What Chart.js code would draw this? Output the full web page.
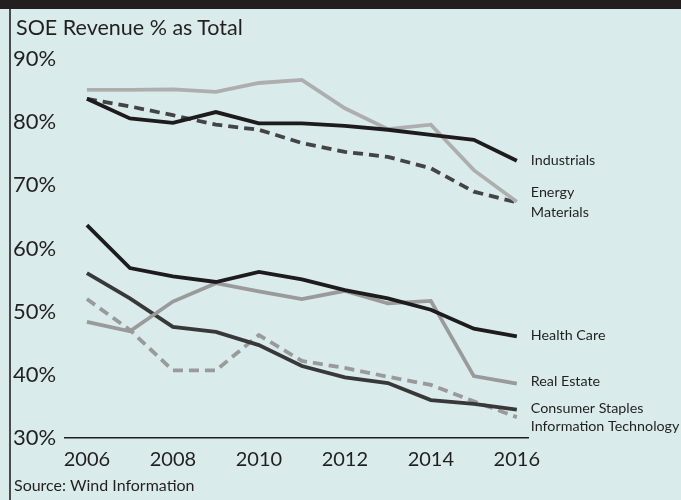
<!DOCTYPE html>
<html>
<head>
<meta charset="utf-8">
<script src="https://cdn.jsdelivr.net/npm/chart.js@4"></script>
<style>
  html, body { margin: 0; padding: 0; }
  body { width: 681px; height: 500px; background: #d9ebea; position: relative; overflow: hidden;
         font-family: Lato, "Open Sans", sans-serif; color: #231f20; }
  #topbar { position: absolute; left: 0; top: 0; width: 681px; height: 9px; background: #231f20; }
  #leftline { position: absolute; left: 9px; top: 9px; width: 2px; height: 491px; background: #4a4a4a; }
  #title { position: absolute; left: 16px; top: 14px; font-size: 21.5px; }
  #source { position: absolute; left: 14px; top: 475px; font-size: 16px; }
  #wrap { position: absolute; left: 0; top: 0; width: 681px; height: 500px; }
</style>
</head>
<body>
<div id="wrap"><canvas id="myChart"></canvas></div>
<div id="topbar"></div>
<div id="leftline"></div>
<div id="title">SOE Revenue % as Total</div>
<div id="source">Source: Wind Information</div>
<script>
var years = [2006, 2007, 2008, 2009, 2010, 2011, 2012, 2013, 2014, 2015, 2016];
var yTicks = [30, 40, 50, 60, 70, 80, 90];
var xTicks = [2006, 2008, 2010, 2012, 2014, 2016];

var industrials = [83.7, 80.6, 79.9, 81.6, 79.8, 79.8, 79.4, 78.8, 78.0, 77.2, 73.9];
var energy = [85.1, 85.1, 85.2, 84.8, 86.2, 86.7, 82.2, 78.9, 79.6, 72.4, 67.4];
var materials = [83.7, 82.5, 81.1, 79.6, 78.8, 76.7, 75.3, 74.5, 72.7, 69.0, 67.3];
var healthCare = [63.7, 56.9, 55.6, 54.7, 56.3, 55.1, 53.4, 52.1, 50.3, 47.3, 46.1];
var realEstate = [48.4, 46.9, 51.6, 54.5, 53.2, 52.0, 53.3, 51.3, 51.7, 39.8, 38.6];
var consumerStaples = [56.1, 52.1, 47.6, 46.8, 44.7, 41.4, 39.6, 38.7, 36.0, 35.4, 34.5];
var infoTech = [52.0, 47.1, 40.7, 40.7, 46.3, 42.2, 41.1, 39.7, 38.4, 35.8, 33.3];

function pts(vals) {
    return vals.map(function (v, i) { return { x: years[i], y: v }; });
}

function series(name, vals, color, dash) {
    return {
        label: name,
        data: pts(vals),
        borderColor: color,
        borderWidth: 3.8,
        borderDash: dash || [],
        pointRadius: 0,
        tension: 0,
        fill: false
    };
}

// text next to the last point of a series; dy nudges it up/down
var endLabels = [
    { ds: 0, lines: ['Industrials'], dy: 0 },
    { ds: 1, lines: ['Energy', 'Materials'], dy: -9 },
    { ds: 3, lines: ['Health Care'], dy: -1 },
    { ds: 4, lines: ['Real Estate'], dy: -2 },
    { ds: 5, lines: ['Consumer Staples'], dy: -1 },
    { ds: 6, lines: ['Information Technology'], dy: 9 }
];

var endLabelPlugin = {
    id: 'endLabels',
    afterDatasetsDraw: function (chart) {
        var ctx = chart.ctx;
        ctx.save();
        ctx.font = '14.3px Lato, "Open Sans", sans-serif';
        ctx.fillStyle = '#231f20';
        ctx.textBaseline = 'middle';
        ctx.textAlign = 'left';
        endLabels.forEach(function (l) {
            var meta = chart.getDatasetMeta(l.ds);
            var p = meta.data[meta.data.length - 1];
            l.lines.forEach(function (t, j) {
                ctx.fillText(t, p.x + 14, p.y + l.dy + j * 20);
            });
        });
        ctx.restore();
    }
};

var ctx = document.getElementById('myChart').getContext('2d');
var chart = new Chart(ctx, {
    type: 'line',
    data: {
        datasets: [
            series('Industrials', industrials, '#1e1b1c'),
            series('Energy', energy, '#aeaeae'),
            series('Materials', materials, '#444444', [10, 6]),
            series('Health Care', healthCare, '#1e1b1c'),
            series('Real Estate', realEstate, '#9a9a9a'),
            series('Consumer Staples', consumerStaples, '#383838'),
            series('Information Technology', infoTech, '#9a9a9a', [10, 6])
        ]
    },
    options: {
        responsive: true,
        maintainAspectRatio: false,
        animation: false,
        layout: { padding: { left: 13, top: 59, right: 153, bottom: 0 } },
        plugins: { legend: { display: false }, tooltip: { enabled: false } },
        scales: {
            x: {
                type: 'linear',
                min: 2005.49,
                max: 2016.26,
                grid: { display: false, drawTicks: false },
                border: { display: true, color: '#231f20', width: 1.5 },
                afterBuildTicks: function (s) { s.ticks = xTicks.map(function (v) { return { value: v }; }); },
                afterFit: function (s) { s.height = 62; },
                ticks: {
                    padding: 10,
                    color: '#231f20',
                    font: { family: 'Lato, "Open Sans", sans-serif', size: 20 },
                    maxRotation: 0,
                    callback: function (v) { return String(v); }
                }
            },
            y: {
                min: 30,
                max: 90,
                grid: { display: false, drawTicks: false },
                border: { display: false },
                afterBuildTicks: function (s) { s.ticks = yTicks.map(function (v) { return { value: v }; }); },
                afterFit: function (s) { s.width = 52; },
                ticks: {
                    crossAlign: 'far',
                    padding: 6,
                    color: '#231f20',
                    font: { family: 'Lato, "Open Sans", sans-serif', size: 22 },
                    callback: function (v) { return v + '%'; }
                }
            }
        }
    },
    plugins: [endLabelPlugin]
});
</script>
</body>
</html>
